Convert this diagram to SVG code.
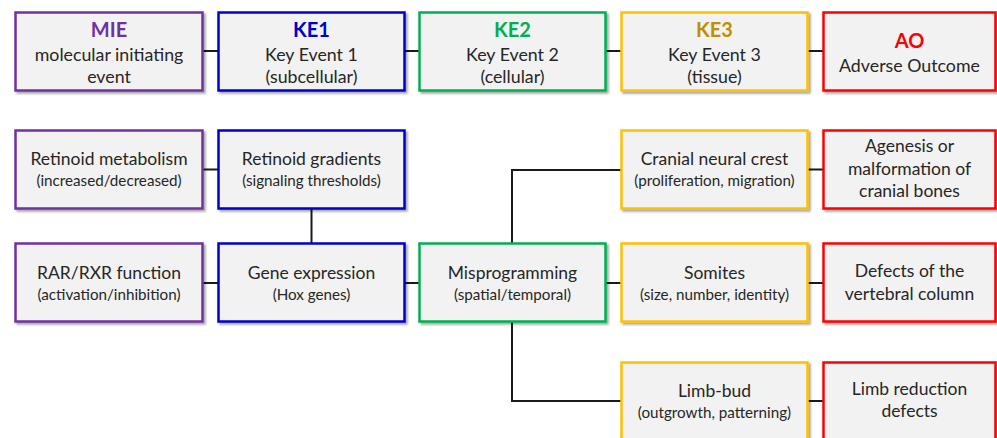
<svg xmlns="http://www.w3.org/2000/svg" width="997" height="438" viewBox="0 0 997 438">
<defs>
<filter id="sh" x="-5%" y="-5%" width="115%" height="120%">
<feDropShadow dx="2" dy="2" stdDeviation="1.2" flood-color="#000" flood-opacity="0.35"/>
</filter>
</defs>
<style>
.box{fill:#f2f2f2;stroke-width:2.5;filter:url(#sh)}
.mie{stroke:#7030a0}.ke1{stroke:#0000cc}.ke2{stroke:#00b050}.ke3{stroke:#ffc000}.ao{stroke:#ff0000}
text{font-family:Lato,"Liberation Sans",sans-serif;text-anchor:middle;fill:#262626}
.t{font-size:20px;font-weight:bold}
.s{font-size:17.8px}
.m{font-size:17.5px}
.n{font-size:15.2px}
.conn{stroke:#1a1a1a;stroke-width:2;fill:none}
</style>
<g id="connectors">
<path class="conn" d="M203,51H218M405,51H419M606,51H621M808,51H823"/>
<path class="conn" d="M203,169.5H218M311.5,209V243M808,169.5H823"/>
<path class="conn" d="M203,283H218M405,283H419M606,283H621M808,283H823"/>
<path class="conn" d="M512,243V170H621M512,322V401H621M808,401H823"/>
</g>
<g id="mie-head"><rect class="box mie" x="15.5" y="12.5" width="187" height="78"/>
<text class="t" x="109" y="37" style="fill:#7030a0">MIE</text>
<text class="s" x="109" y="61">molecular initiating</text>
<text class="s" x="109" y="83">event</text></g>
<g id="ke1-head"><rect class="box ke1" x="218.5" y="12.5" width="186" height="78"/>
<text class="t" x="311.5" y="37" style="fill:#0000cc">KE1</text>
<text class="s" x="311.5" y="61">Key Event 1</text>
<text class="s" x="311.5" y="83">(subcellular)</text></g>
<g id="ke2-head"><rect class="box ke2" x="419.5" y="12.5" width="186" height="78"/>
<text class="t" x="512.5" y="37" style="fill:#00b050">KE2</text>
<text class="s" x="512.5" y="61">Key Event 2</text>
<text class="s" x="512.5" y="83">(cellular)</text></g>
<g id="ke3-head"><rect class="box ke3" x="621.5" y="12.5" width="186" height="78"/>
<text class="t" x="714.5" y="37" style="fill:#bf9000">KE3</text>
<text class="s" x="714.5" y="61">Key Event 3</text>
<text class="s" x="714.5" y="83">(tissue)</text></g>
<g id="ao-head"><rect class="box ao" x="823.5" y="12.5" width="172" height="78"/>
<text class="t" x="909.5" y="48" style="fill:#ff0000">AO</text>
<text class="s" x="909.5" y="72">Adverse Outcome</text></g>

<g id="retinoid-metabolism"><rect class="box mie" x="15.5" y="130.5" width="187" height="78"/>
<text class="m" x="109" y="165">Retinoid metabolism</text>
<text class="n" x="109" y="186">(increased/decreased)</text></g>
<g id="retinoid-gradients"><rect class="box ke1" x="218.5" y="130.5" width="186" height="78"/>
<text class="m" x="311.5" y="165">Retinoid gradients</text>
<text class="n" x="311.5" y="186">(signaling thresholds)</text></g>
<g id="cranial-neural-crest"><rect class="box ke3" x="621.5" y="130.5" width="186" height="78"/>
<text class="m" x="714.5" y="165">Cranial neural crest</text>
<text class="n" x="714.5" y="186">(proliferation, migration)</text></g>
<g id="agenesis"><rect class="box ao" x="823.5" y="130.5" width="172" height="78"/>
<text class="m" x="909.5" y="152">Agenesis or</text>
<text class="m" x="909.5" y="175">malformation of</text>
<text class="m" x="909.5" y="197">cranial bones</text></g>

<g id="rar-rxr"><rect class="box mie" x="15.5" y="243.5" width="187" height="78"/>
<text class="m" x="109" y="279">RAR/RXR function</text>
<text class="n" x="109" y="300">(activation/inhibition)</text></g>
<g id="gene-expression"><rect class="box ke1" x="218.5" y="243.5" width="186" height="78"/>
<text class="m" x="311.5" y="279">Gene expression</text>
<text class="n" x="311.5" y="300">(Hox genes)</text></g>
<g id="misprogramming"><rect class="box ke2" x="419.5" y="243.5" width="186" height="78"/>
<text class="m" x="512.5" y="279">Misprogramming</text>
<text class="n" x="512.5" y="300">(spatial/temporal)</text></g>
<g id="somites"><rect class="box ke3" x="621.5" y="243.5" width="186" height="78"/>
<text class="m" x="714.5" y="279">Somites</text>
<text class="n" x="714.5" y="300">(size, number, identity)</text></g>
<g id="vertebral-defects"><rect class="box ao" x="823.5" y="243.5" width="172" height="78"/>
<text class="m" x="909.5" y="277">Defects of the</text>
<text class="m" x="909.5" y="300">vertebral column</text></g>

<g id="limb-bud"><rect class="box ke3" x="621.5" y="362.5" width="186" height="82"/>
<text class="m" x="714.5" y="397">Limb-bud</text>
<text class="n" x="714.5" y="418">(outgrowth, patterning)</text></g>
<g id="limb-reduction"><rect class="box ao" x="823.5" y="362.5" width="172" height="82"/>
<text class="m" x="909.5" y="395">Limb reduction</text>
<text class="m" x="909.5" y="417">defects</text></g>
</svg>
